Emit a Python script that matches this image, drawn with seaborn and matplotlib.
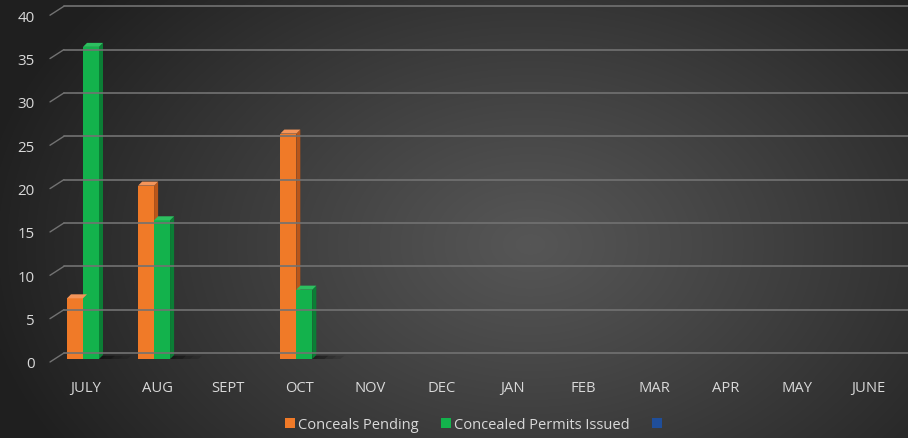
import numpy as np
import pandas as pd
import matplotlib
matplotlib.use("Agg")
import matplotlib.pyplot as plt
from matplotlib.patches import Polygon, Patch
from matplotlib.lines import Line2D
from matplotlib.transforms import ScaledTranslation
import seaborn as sns

# ---- data -------------------------------------------------------------
months = ["JULY", "AUG", "SEPT", "OCT", "NOV", "DEC",
          "JAN", "FEB", "MAR", "APR", "MAY", "JUNE"]
pending = [7, 20, 0, 26, 0, 0, 0, 0, 0, 0, 0, 0]
issued = [36, 16, 0, 8, 0, 0, 0, 0, 0, 0, 0, 0]
series_names = ["Conceals Pending", "Concealed Permits Issued", ""]
y_ticks = [0, 5, 10, 15, 20, 25, 30, 35, 40]

colors = {"Conceals Pending": "#F07A28", "Concealed Permits Issued": "#13B24C"}
side_colors = {"Conceals Pending": "#B9561A", "Concealed Permits Issued": "#0B7E35"}
top_colors = {"Conceals Pending": "#F4955A", "Concealed Permits Issued": "#2DC060"}
third_color = "#1F4E9A"
text_color = "#D9D9D9"
grid_color = "#727272"

df = pd.DataFrame({
    "month": months * 2,
    "series": [series_names[0]] * len(months) + [series_names[1]] * len(months),
    "value": pending + issued,
})

sns.set_theme(style="dark")
plt.rcParams["font.family"] = ["Open Sans", "DejaVu Sans"]

W, H, DPI = 908, 439, 100
fig = plt.figure(figsize=(W / DPI, H / DPI), dpi=DPI)

# ---- radial background ------------------------------------------------
bg = fig.add_axes([0, 0, 1, 1], zorder=-10)
yy, xx = np.mgrid[0:H, 0:W]
r = np.sqrt(((xx - 530) / 560.0) ** 2 + ((yy - 245) / 390.0) ** 2)
r = np.clip(r, 0, 1) ** 1.1
light, dark = 0x56 / 255, 0x1F / 255
shade = light + (dark - light) * r
bg.imshow(np.dstack([shade] * 3), extent=[0, W, H, 0], aspect="auto",
          interpolation="bilinear")
bg.set_axis_off()

# ---- main axes --------------------------------------------------------
slot = 71.1
left_px = 83 - slot / 2
base_px = 360
unit_px = 8.67
ax = fig.add_axes([left_px / W, (H - base_px) / H,
                   12 * slot / W, 40 * unit_px / H])
ax.patch.set_alpha(0)

sns.barplot(data=df, x="month", y="value", hue="series", order=months,
            hue_order=series_names[:2], palette=colors, width=0.45,
            saturation=1, edgecolor="none", linewidth=0, legend=False,
            ax=ax, zorder=3)

ax.set_xlim(-0.5, len(months) - 0.5)
ax.set_ylim(0, 40)
ax.set_xlabel("")
ax.set_ylabel("")
ax.grid(False)
for s in ax.spines.values():
    s.set_visible(False)

# tick labels
ax.set_yticks(y_ticks)
ax.set_yticklabels([str(v) for v in y_ticks])
ax.tick_params(axis="y", length=0, pad=9, labelsize=10.8, labelcolor=text_color)
ax.tick_params(axis="x", length=0, pad=15, labelsize=10.6, labelcolor=text_color)
for lab in ax.get_yticklabels():
    lab.set_transform(lab.get_transform() + ScaledTranslation(0, -3 / DPI, fig.dpi_scale_trans))
for lab in ax.get_xticklabels():
    lab.set_transform(lab.get_transform() + ScaledTranslation(3 / DPI, 0, fig.dpi_scale_trans))

# ---- back wall gridlines with perspective stubs -----------------------
to_fig = fig.transFigure.inverted()
for v in y_ticks:
    _, yd = ax.transData.transform((0, v))
    front = (50, yd - 3)
    back = (64, yd + 6)
    p0 = to_fig.transform(front)
    p1 = to_fig.transform(back)
    p2 = to_fig.transform((W, yd + 6))
    fig.add_artist(Line2D([p0[0], p1[0]], [p0[1], p1[1]], color=grid_color,
                          lw=1.0, zorder=1))
    fig.add_artist(Line2D([p1[0], p2[0]], [p1[1], p2[1]], color=grid_color,
                          lw=1.2, zorder=1))

# ---- 3-D faces on bars ------------------------------------------------
d = 4.0
dx = d / slot
dy = d / unit_px
bars = [p for p in ax.patches]
n = len(months)
for i, p in enumerate(bars):
    name = series_names[0] if i < n else series_names[1]
    h = p.get_height()
    if h <= 0:
        continue
    x0 = p.get_x()
    x1 = x0 + p.get_width()
    # soft shadow at the base
    for k, a in enumerate([0.10, 0.10, 0.12]):
        ax.add_patch(Polygon([(x0, 0), (x1 + dx * (3 + 2 * k), 0),
                              (x1 + dx * (4 + 2 * k), dy * 0.8),
                              (x0 + dx, dy * 0.8)],
                             closed=True, facecolor="black", alpha=a,
                             edgecolor="none", zorder=2, clip_on=False))
    ax.add_patch(Polygon([(x1, 0), (x1, h), (x1 + dx, h + dy), (x1 + dx, dy)],
                         closed=True, facecolor=side_colors[name],
                         edgecolor="none", zorder=2.5, clip_on=False))
    ax.add_patch(Polygon([(x0, h), (x1, h), (x1 + dx, h + dy), (x0 + dx, h + dy)],
                         closed=True, facecolor=top_colors[name],
                         edgecolor="none", zorder=4, clip_on=False))

# ---- legend -----------------------------------------------------------
handles = [Patch(facecolor=colors[series_names[0]], edgecolor="none"),
           Patch(facecolor=colors[series_names[1]], edgecolor="none"),
           Patch(facecolor=third_color, edgecolor="none")]
leg = fig.legend(handles, series_names, loc="center",
                 bbox_to_anchor=(475 / W, (H - 426) / H), ncol=3,
                 frameon=False, fontsize=10.5, handlelength=0.69,
                 handleheight=0.69, handletextpad=0.2, columnspacing=1.55,
                 labelcolor=text_color)

fig.savefig("out.png", dpi=DPI)
